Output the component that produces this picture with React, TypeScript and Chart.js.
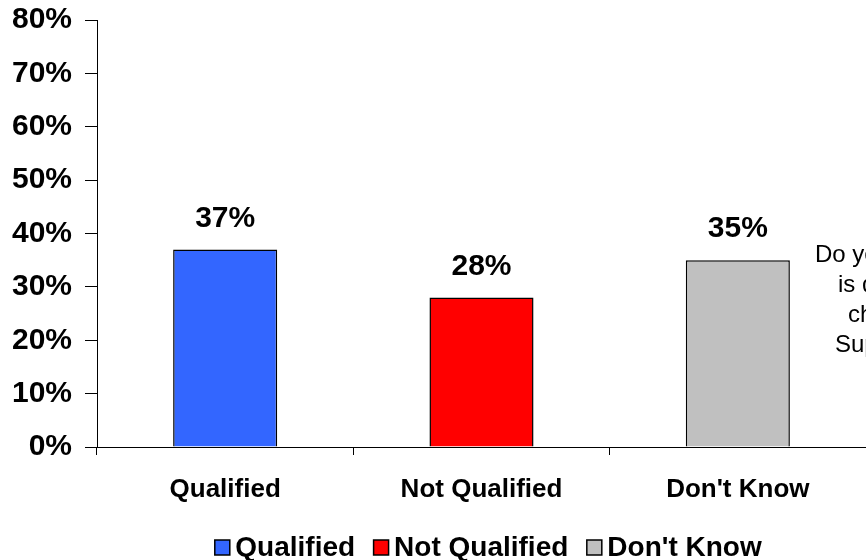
import React, { useEffect, useRef } from "react";
import { Chart, registerables } from "chart.js";

Chart.register(...registerables);

const categories = ["Qualified", "Not Qualified", "Don't Know"];
const values = [37, 28, 35];
const barColors = ["#3366FF", "#FF0000", "#C0C0C0"];
const yTicks = [0, 10, 20, 30, 40, 50, 60, 70, 80];
const noteLines = ["Do you think Roberts", "is qualified to be", "chief justice of the", "Supreme Court?"];

const FONT = "'Liberation Sans', Arial, sans-serif";

const labelsPlugin = {
  id: "customLabels",
  afterDatasetsDraw(chart: any) {
    const ctx = chart.ctx;
    const meta = chart.getDatasetMeta(0);
    ctx.save();
    ctx.fillStyle = "#000";
    ctx.font = `bold 30px ${FONT}`;
    ctx.textAlign = "center";
    ctx.textBaseline = "alphabetic";
    meta.data.forEach((bar: any, i: number) => {
      ctx.fillText(values[i] + "%", bar.x, bar.y - 23);
    });
    ctx.restore();
  },
  afterDraw(chart: any) {
    const ctx = chart.ctx;
    ctx.save();
    // legend
    ctx.font = `bold 28px ${FONT}`;
    ctx.textBaseline = "middle";
    ctx.textAlign = "left";
    const box = 15;
    const gap = 6;
    const spacing = 18;
    let total = 0;
    const widths = categories.map((c) => ctx.measureText(c).width);
    widths.forEach((w, i) => {
      total += box + gap + w + (i < widths.length - 1 ? spacing : 0);
    });
    const cx = 488;
    let x = cx - total / 2;
    const y = 547;
    categories.forEach((c, i) => {
      ctx.fillStyle = barColors[i];
      ctx.fillRect(x + 0.5, y - box / 2 + 0.5, box, box);
      ctx.strokeStyle = "#000";
      ctx.lineWidth = 1.5;
      ctx.strokeRect(x + 0.5, y - box / 2 + 0.5, box, box);
      ctx.fillStyle = "#000";
      ctx.fillText(c, x + box + gap, y + 1);
      x += box + gap + widths[i] + spacing;
    });
    // note text (clipped at right edge)
    ctx.font = `24px ${FONT}`;
    ctx.textBaseline = "alphabetic";
    const xs = [815, 838, 848, 835];
    noteLines.forEach((t, i) => {
      ctx.fillText(t, xs[i], 262 + i * 30);
    });
    ctx.restore();
  },
};

export default function App() {
  const ref = useRef<HTMLCanvasElement>(null);
  useEffect(() => {
    if (!ref.current) return;
    const chart = new Chart(ref.current, {
      type: "bar",
      data: {
        labels: categories,
        datasets: [
          {
            data: values,
            backgroundColor: barColors,
            borderColor: "#000",
            borderWidth: 1.5,
            barPercentage: 0.406,
            categoryPercentage: 1,
          },
        ],
      },
      plugins: [labelsPlugin],
      options: {
        animation: false,
        responsive: true,
        maintainAspectRatio: false,
        layout: { padding: { top: 20, right: 0, bottom: 0, left: 0 } },
        plugins: { legend: { display: false }, tooltip: { enabled: false } },
        scales: {
          x: {
            offset: true,
            grid: { offset: true, drawOnChartArea: false, tickLength: 8, color: "#000" },
            border: { color: "#000", width: 1 },
            ticks: {
              color: "#000",
              font: { family: FONT, size: 26, weight: "bold" },
              padding: 19,
              maxRotation: 0,
            },
            afterFit(scale: any) {
              scale.height = 113;
              scale.paddingLeft = 0;
              scale.paddingRight = 0;
            },
          },
          y: {
            min: 0,
            max: 80,
            afterBuildTicks(scale: any) {
              scale.ticks = yTicks.map((v) => ({ value: v }));
            },
            grid: { drawOnChartArea: false, tickLength: 12, color: "#000" },
            border: { color: "#000", width: 1 },
            ticks: {
              color: "#000",
              font: { family: FONT, size: 30, weight: "bold" },
              padding: 13,
              callback: (v: any) => v + "%",
            },
            afterFit(scale: any) {
              scale.width = 97;
              scale.paddingTop = 0;
              scale.paddingBottom = 0;
            },
          },
        },
      },
    });
    return () => chart.destroy();
  }, []);
  return (
    <div style={{ position: "fixed", left: 0, top: 0, width: 866, height: 560, background: "#fff" }}>
      <canvas ref={ref} />
    </div>
  );
}
